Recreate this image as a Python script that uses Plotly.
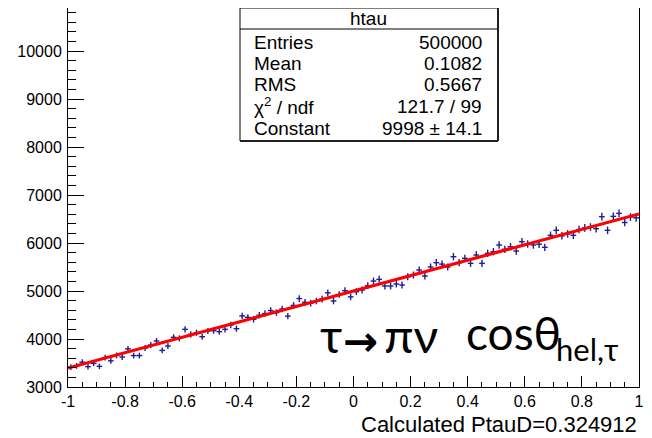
import numpy as np
import plotly.graph_objects as go

# ---------------- data ----------------
hist_low, hist_high, n_bins = -1.0, 1.0, 100
counts = [
    3415, 3440, 3518, 3424, 3493, 3430, 3611, 3545, 3658, 3625,
    3795, 3655, 3655, 3812, 3875, 3958, 3762, 3854, 4035, 4014,
    4201, 4097, 4132, 4048, 4167, 4173, 4153, 4201, 4292, 4215,
    4482, 4451, 4410, 4495, 4530, 4592, 4550, 4625, 4476, 4700,
    4843, 4764, 4746, 4792, 4830, 4962, 4792, 4927, 5007, 4878,
    4986, 5021, 5111, 5208, 5243, 5104, 5104, 5146, 5125, 5298,
    5333, 5437, 5312, 5500, 5590, 5560, 5500, 5715, 5590, 5680,
    5576, 5750, 5576, 5785, 5819, 5958, 5868, 5923, 5833, 6027,
    5979, 5958, 5975, 5910, 6160, 6265, 6150, 6190, 6160, 6280,
    6315, 6333, 6298, 6548, 6264, 6555, 6618, 6427, 6540, 6525,
]
fit_x = [-1.0, 1.0]
fit_y = [3395, 6605]

x_tick_vals = [-1, -0.8, -0.6, -0.4, -0.2, 0, 0.2, 0.4, 0.6, 0.8, 1]
x_tick_labels = ["-1", "-0.8", "-0.6", "-0.4", "-0.2", "0", "0.2", "0.4", "0.6", "0.8", "1"]
y_tick_vals = [3000, 4000, 5000, 6000, 7000, 8000, 9000, 10000]
y_tick_labels = ["3000", "4000", "5000", "6000", "7000", "8000", "9000", "10000"]

stats_title = "htau"
stats_names = ["Entries", "Mean", "RMS", "χ<sup>2</sup> / ndf", "Constant"]
stats_values = ["500000", "0.1082", "0.5667", "121.7 / 99", "9998 ± 14.1"]

x_title = "Calculated PtauD=0.324912"
label_tau = "τ"
label_arrow = "→"
label_pinu = "πν"
label_cos = "cosθ"
label_sub = "hel,τ"

# ---------------- derived ----------------
bw = (hist_high - hist_low) / n_bins
centers = [hist_low + bw * (i + 0.5) for i in range(n_bins)]
errs = list(np.sqrt(np.array(counts, dtype=float)))

# page geometry (the page body adds an 8px offset)
OFF = 8
PW, PH = 652, 438
W, H = PW - OFF, PH - OFF
L, R, T, B = 68, 639, 8, 387   # plot area in page pixels


def px(xp):
    return (xp - L) / (R - L)


def py(yp):
    return (B - yp) / (B - T)


ROOT_FONT = "Liberation Sans, Arial, Helvetica, sans-serif"
SLIDE_FONT = "Lato, Open Sans, sans-serif"
BLUE = "#1e1e96"

fig = go.Figure()
fig.add_trace(go.Scatter(
    x=centers, y=counts, mode="markers",
    marker=dict(size=1, color=BLUE),
    error_y=dict(type="data", array=errs, visible=True, color=BLUE, thickness=1.4, width=0),
    error_x=dict(type="constant", value=bw / 2, visible=True, color=BLUE, thickness=1.4, width=0),
    showlegend=False, hoverinfo="skip",
))
fig.add_trace(go.Scatter(
    x=fit_x, y=fit_y, mode="lines",
    line=dict(color="#ff0000", width=3.2),
    showlegend=False, hoverinfo="skip",
))

y_top = 3000 + (B - T) / 48.0 * 1000

fig.update_layout(
    width=W, height=H, autosize=False,
    margin=dict(l=L - OFF, r=PW - R, t=T - OFF, b=PH - B, pad=0),
    paper_bgcolor="white", plot_bgcolor="white",
    font=dict(family=ROOT_FONT, size=16, color="black"),
    xaxis=dict(
        range=[hist_low, hist_high], showgrid=False, zeroline=False,
        showline=True, linecolor="black", linewidth=1, mirror=True,
        tickmode="array", tickvals=x_tick_vals, ticktext=x_tick_labels,
        ticks="inside", ticklen=11, tickwidth=1, tickcolor="black",
        minor=dict(ticks="inside", ticklen=5.5, tickwidth=1, tickcolor="black",
                   tickmode="linear", tick0=-1, dtick=0.05),
        tickfont=dict(family=ROOT_FONT, size=16),
    ),
    yaxis=dict(
        range=[3000, y_top], showgrid=False, zeroline=False,
        showline=True, linecolor="black", linewidth=1, mirror=True,
        tickmode="array", tickvals=y_tick_vals, ticktext=y_tick_labels,
        ticks="inside", ticklen=16, tickwidth=1, tickcolor="black",
        minor=dict(ticks="inside", ticklen=8, tickwidth=1, tickcolor="black",
                   tickmode="linear", tick0=3000, dtick=200),
        tickfont=dict(family=ROOT_FONT, size=16),
        ticklabelstandoff=2,
    ),
)

# stats box
bx0, bx1, by_top, by_bot, by_sep = px(240), px(498), py(8), py(141), py(29)
fig.add_shape(type="rect", xref="paper", yref="paper", x0=bx0, x1=bx1, y0=by_bot, y1=by_top,
              line=dict(color="black", width=1), fillcolor="white", layer="above")
fig.add_shape(type="line", xref="paper", yref="paper", x0=bx0, x1=bx1, y0=by_sep, y1=by_sep,
              line=dict(color="black", width=1))
fig.add_shape(type="line", xref="paper", yref="paper", x0=bx1, x1=bx1, y0=by_bot, y1=by_top,
              line=dict(color="#222222", width=2))
fig.add_shape(type="line", xref="paper", yref="paper", x0=bx0, x1=bx1, y0=by_bot, y1=by_bot,
              line=dict(color="#222222", width=2))

fig.add_annotation(xref="paper", yref="paper", x=px(368), y=py(18), text=stats_title,
                   showarrow=False, xanchor="center", yanchor="middle",
                   font=dict(family=ROOT_FONT, size=19))
row_y = [42, 63, 84, 106, 128]
for name, val, yy in zip(stats_names, stats_values, row_y):
    fig.add_annotation(xref="paper", yref="paper", x=px(252), y=py(yy), text=name,
                       showarrow=False, xanchor="left", yanchor="middle",
                       font=dict(family=ROOT_FONT, size=19))
    fig.add_annotation(xref="paper", yref="paper", x=px(484), y=py(yy), text=val,
                       showarrow=False, xanchor="right", yanchor="middle",
                       font=dict(family=ROOT_FONT, size=19))

# x title
fig.add_annotation(xref="paper", yref="paper", x=px(639), y=py(424), text=x_title,
                   showarrow=False, xanchor="right", yanchor="middle",
                   font=dict(family=ROOT_FONT, size=22))

# decay labels
fig.add_annotation(xref="paper", yref="paper", x=px(318), y=py(334), text=label_tau,
                   showarrow=False, xanchor="left", yanchor="middle",
                   font=dict(family=SLIDE_FONT, size=48))
fig.add_annotation(xref="paper", yref="paper", x=px(360), y=py(341), text=label_arrow,
                   showarrow=False, xanchor="center", yanchor="middle",
                   font=dict(family="DejaVu Sans", size=42, weight="bold"))
fig.add_annotation(xref="paper", yref="paper", x=px(382), y=py(334), text=label_pinu,
                   showarrow=False, xanchor="left", yanchor="middle",
                   font=dict(family=SLIDE_FONT, size=48))
fig.add_annotation(xref="paper", yref="paper", x=px(464), y=py(332), text=label_cos,
                   showarrow=False, xanchor="left", yanchor="middle",
                   font=dict(family=SLIDE_FONT, size=46))
fig.add_annotation(xref="paper", yref="paper", x=px(554), y=py(349), text=label_sub,
                   showarrow=False, xanchor="left", yanchor="middle",
                   font=dict(family=SLIDE_FONT, size=31))

fig.write_html("out.html")
